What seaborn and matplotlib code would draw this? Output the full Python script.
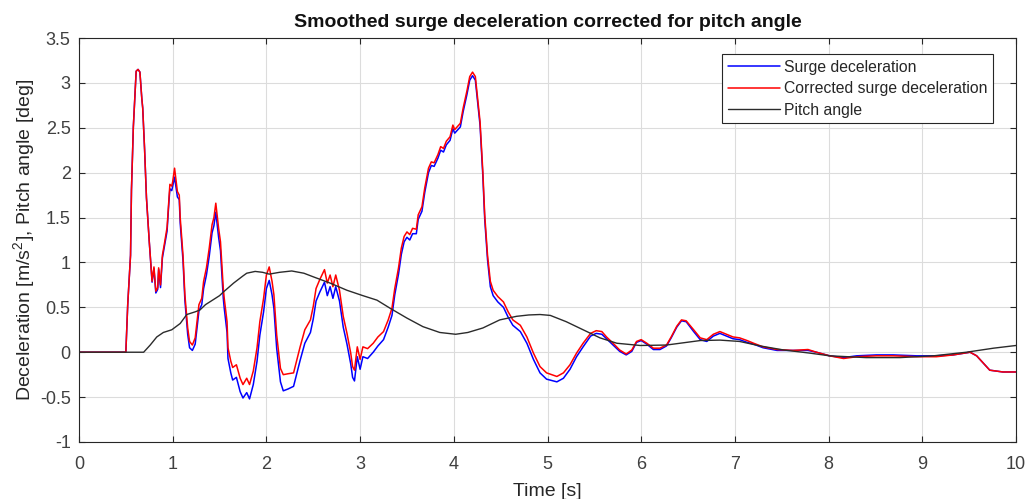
import numpy as np
import pandas as pd
import matplotlib
matplotlib.use("Agg")
import matplotlib.pyplot as plt
import seaborn as sns

# ---- data ----
t_acc = [0.00, 0.50, 0.52, 0.55, 0.56, 0.58, 0.61, 0.63, 0.65, 0.67, 0.68, 0.70, 0.72, 0.75, 0.77, 0.78,
         0.80, 0.82, 0.84, 0.85, 0.87, 0.89, 0.91, 0.94, 0.96, 0.97, 0.99, 1.00, 1.02, 1.05, 1.07, 1.08,
         1.11, 1.13, 1.16, 1.18, 1.21, 1.24, 1.26, 1.28, 1.31, 1.33, 1.36, 1.39, 1.42, 1.44, 1.46, 1.49,
         1.51, 1.54, 1.55, 1.58, 1.59, 1.62, 1.64, 1.68, 1.72, 1.75, 1.79, 1.82, 1.86, 1.90, 1.93, 1.97,
         2.00, 2.03, 2.06, 2.08, 2.11, 2.15, 2.18, 2.23, 2.29, 2.36, 2.41, 2.47, 2.50, 2.53, 2.57, 2.62,
         2.65, 2.68, 2.71, 2.74, 2.78, 2.82, 2.86, 2.90, 2.92, 2.94, 2.97, 3.00, 3.03, 3.08, 3.14, 3.19,
         3.25, 3.30, 3.34, 3.37, 3.41, 3.44, 3.47, 3.50, 3.53, 3.56, 3.60, 3.62, 3.66, 3.69, 3.73, 3.76,
         3.79, 3.83, 3.86, 3.89, 3.92, 3.96, 3.99, 4.01, 4.07, 4.10, 4.14, 4.17, 4.20, 4.23, 4.25, 4.28,
         4.31, 4.33, 4.36, 4.39, 4.42, 4.47, 4.53, 4.58, 4.63, 4.71, 4.78, 4.85, 4.92, 4.99, 5.10, 5.17,
         5.24, 5.31, 5.38, 5.46, 5.52, 5.58, 5.63, 5.70, 5.77, 5.84, 5.90, 5.95, 6.00, 6.06, 6.13, 6.20,
         6.27, 6.32, 6.38, 6.43, 6.48, 6.56, 6.63, 6.70, 6.77, 6.84, 6.91, 6.98, 7.05, 7.13, 7.20, 7.30,
         7.45, 7.62, 7.78, 7.87, 8.01, 8.16, 8.30, 8.51, 8.69, 8.94, 9.15, 9.33, 9.51, 9.58, 9.65, 9.72,
         9.86, 10.00]

surge = [0.00, 0.00, 0.53, 1.08, 1.81, 2.51, 3.13, 3.15, 3.12, 2.83, 2.72, 2.26, 1.72, 1.23, 0.93, 0.78,
         0.93, 0.66, 0.70, 0.92, 0.72, 1.05, 1.17, 1.35, 1.68, 1.82, 1.80, 1.85, 1.95, 1.73, 1.70, 1.44,
         1.02, 0.58, 0.20, 0.05, 0.02, 0.09, 0.27, 0.46, 0.53, 0.71, 0.86, 1.07, 1.33, 1.41, 1.56, 1.28,
         1.13, 0.60, 0.49, 0.22, -0.07, -0.23, -0.31, -0.28, -0.44, -0.51, -0.45, -0.52, -0.36, -0.10, 0.19, 0.45,
         0.71, 0.80, 0.64, 0.49, 0.04, -0.33, -0.43, -0.41, -0.38, -0.09, 0.10, 0.22, 0.37, 0.57, 0.67, 0.78,
         0.63, 0.73, 0.60, 0.73, 0.57, 0.28, 0.09, -0.13, -0.28, -0.32, -0.05, -0.19, -0.05, -0.07, 0.00, 0.07,
         0.14, 0.28, 0.41, 0.64, 0.87, 1.09, 1.23, 1.28, 1.25, 1.32, 1.32, 1.48, 1.57, 1.78, 2.00, 2.08,
         2.07, 2.16, 2.25, 2.23, 2.31, 2.36, 2.49, 2.44, 2.51, 2.68, 2.87, 3.03, 3.08, 3.03, 2.83, 2.53,
         1.96, 1.48, 1.03, 0.73, 0.63, 0.56, 0.50, 0.39, 0.30, 0.23, 0.10, -0.08, -0.23, -0.30, -0.33, -0.29,
         -0.19, -0.05, 0.06, 0.18, 0.21, 0.20, 0.15, 0.08, 0.01, -0.03, 0.01, 0.11, 0.13, 0.09, 0.03, 0.03,
         0.07, 0.16, 0.28, 0.35, 0.34, 0.23, 0.14, 0.12, 0.18, 0.21, 0.18, 0.15, 0.14, 0.11, 0.09, 0.05,
         0.02, 0.02, 0.02, 0.00, -0.04, -0.06, -0.04, -0.03, -0.03, -0.04, -0.04, -0.03, 0.00, -0.04, -0.12, -0.20,
         -0.22, -0.22]

corrected = [0.00, 0.00, 0.53, 1.08, 1.81, 2.51, 3.13, 3.15, 3.12, 2.83, 2.72, 2.26, 1.72, 1.23, 0.94, 0.79,
             0.95, 0.68, 0.72, 0.94, 0.75, 1.08, 1.20, 1.39, 1.72, 1.87, 1.85, 1.90, 2.05, 1.79, 1.75, 1.50,
             1.08, 0.64, 0.27, 0.12, 0.08, 0.16, 0.34, 0.53, 0.60, 0.79, 0.94, 1.16, 1.42, 1.50, 1.66, 1.38,
             1.23, 0.71, 0.60, 0.34, 0.05, -0.10, -0.17, -0.14, -0.29, -0.36, -0.29, -0.36, -0.21, 0.05, 0.34, 0.60,
             0.86, 0.95, 0.79, 0.64, 0.19, -0.18, -0.25, -0.24, -0.23, 0.06, 0.25, 0.36, 0.51, 0.71, 0.81, 0.92,
             0.77, 0.86, 0.73, 0.86, 0.69, 0.40, 0.21, -0.01, -0.16, -0.20, 0.06, -0.08, 0.06, 0.04, 0.10, 0.17,
             0.23, 0.36, 0.49, 0.71, 0.94, 1.16, 1.29, 1.34, 1.31, 1.38, 1.37, 1.53, 1.62, 1.83, 2.05, 2.12,
             2.11, 2.20, 2.29, 2.27, 2.35, 2.40, 2.53, 2.48, 2.55, 2.72, 2.91, 3.07, 3.12, 3.07, 2.87, 2.57,
             2.01, 1.53, 1.08, 0.79, 0.69, 0.62, 0.56, 0.45, 0.36, 0.30, 0.17, -0.01, -0.16, -0.23, -0.27, -0.23,
             -0.14, -0.01, 0.10, 0.21, 0.24, 0.23, 0.17, 0.10, 0.025, -0.02, 0.025, 0.12, 0.14, 0.10, 0.045, 0.045,
             0.08, 0.17, 0.29, 0.36, 0.35, 0.25, 0.16, 0.14, 0.20, 0.23, 0.20, 0.17, 0.16, 0.13, 0.10, 0.06,
             0.03, 0.02, 0.03, 0.00, -0.04, -0.07, -0.05, -0.04, -0.04, -0.05, -0.05, -0.03, 0.00, -0.04, -0.12, -0.20,
             -0.22, -0.22]

t_pitch = [0.00, 0.69, 0.76, 0.83, 0.90, 0.99, 1.08, 1.15, 1.24, 1.29, 1.35, 1.44, 1.50, 1.54, 1.65, 1.75,
           1.79, 1.88, 1.96, 2.03, 2.14, 2.27, 2.40, 2.50, 2.68, 2.86, 3.03, 3.18, 3.32, 3.50, 3.67, 3.85,
           4.02, 4.15, 4.31, 4.49, 4.67, 4.80, 4.92, 5.03, 5.20, 5.38, 5.56, 5.74, 5.99, 6.27, 6.63, 6.84,
           7.05, 7.27, 7.52, 7.80, 8.01, 8.40, 8.76, 9.12, 9.47, 9.76, 10.00]
pitch = [0.00, 0.00, 0.08, 0.17, 0.22, 0.25, 0.32, 0.42, 0.45, 0.47, 0.53, 0.59, 0.63, 0.67, 0.77, 0.85,
         0.88, 0.90, 0.89, 0.87, 0.89, 0.905, 0.88, 0.84, 0.77, 0.69, 0.63, 0.58, 0.49, 0.38, 0.285, 0.22,
         0.20, 0.22, 0.27, 0.36, 0.40, 0.415, 0.42, 0.41, 0.34, 0.25, 0.16, 0.10, 0.075, 0.08, 0.13, 0.135,
         0.12, 0.07, 0.025, -0.01, -0.04, -0.06, -0.06, -0.04, 0.00, 0.045, 0.075]

title = "Smoothed surge deceleration corrected for pitch angle"
xlabel = "Time [s]"
ylabel = "Deceleration [m/s$^2$], Pitch angle [deg]"
labels = ["Surge deceleration", "Corrected surge deceleration", "Pitch angle"]
xticks = [0, 1, 2, 3, 4, 5, 6, 7, 8, 9, 10]
yticks = [-1, -0.5, 0, 0.5, 1, 1.5, 2, 2.5, 3, 3.5]

# ---- plotting ----
sns.set_theme(style="whitegrid")
plt.rcParams['font.family'] = ['Liberation Sans', 'DejaVu Sans']
plt.rcParams['mathtext.fontset'] = 'custom'
plt.rcParams['mathtext.rm'] = 'Liberation Sans'

fig = plt.figure(figsize=(10.29, 4.99), dpi=100)
ax = fig.add_axes([79/1029, 1-442/499, (1016-79)/1029, (442-38)/499])

df_s = pd.DataFrame({"t": t_acc, "v": surge})
df_c = pd.DataFrame({"t": t_acc, "v": corrected})
df_p = pd.DataFrame({"t": t_pitch, "v": pitch})

sns.lineplot(data=df_s, x="t", y="v", ax=ax, color=(0, 0, 1), lw=1.1, label=labels[0], sort=False)
sns.lineplot(data=df_c, x="t", y="v", ax=ax, color=(1, 0, 0), lw=1.1, label=labels[1], sort=False)
sns.lineplot(data=df_p, x="t", y="v", ax=ax, color="#2b2b2b", lw=1.0, label=labels[2], sort=False)

ax.set_xlim(0, 10)
ax.set_ylim(-1, 3.5)
ax.set_xticks(xticks)
ax.set_yticks(yticks)
ax.set_xticklabels([f"{v:g}" for v in xticks])
ax.set_yticklabels([f"{v:g}" for v in yticks])

ax.set_facecolor("white")
ax.grid(True, color="#dcdcdc", lw=0.8)
for s in ax.spines.values():
    s.set_color("#262626")
    s.set_linewidth(0.8)
    s.set_visible(True)
ax.tick_params(direction="in", length=4, width=0.8, colors="#262626", labelsize=13,
               top=True, right=True, bottom=True, left=True)
ax.tick_params(axis="x", pad=10)
ax.tick_params(axis="y", pad=6)
for lab in ax.get_xticklabels() + ax.get_yticklabels():
    lab.set_color("#404040")

ax.set_xlabel(xlabel, fontsize=14, color="#262626", labelpad=7)
ax.set_ylabel(ylabel, fontsize=14, color="#262626", labelpad=1)
ax.set_title(title, fontsize=14, fontweight="bold", color="#111111", pad=8)

leg = ax.legend(loc="upper right", bbox_to_anchor=((993-79)/937, (442-54)/404),
                fontsize=11.3, frameon=True, fancybox=False, framealpha=1, edgecolor="#262626",
                handlelength=3.3, handletextpad=0.25, borderpad=0.38, labelspacing=0.4, borderaxespad=0)
leg.get_frame().set_linewidth(0.8)

fig.savefig("out.png", dpi=100)
